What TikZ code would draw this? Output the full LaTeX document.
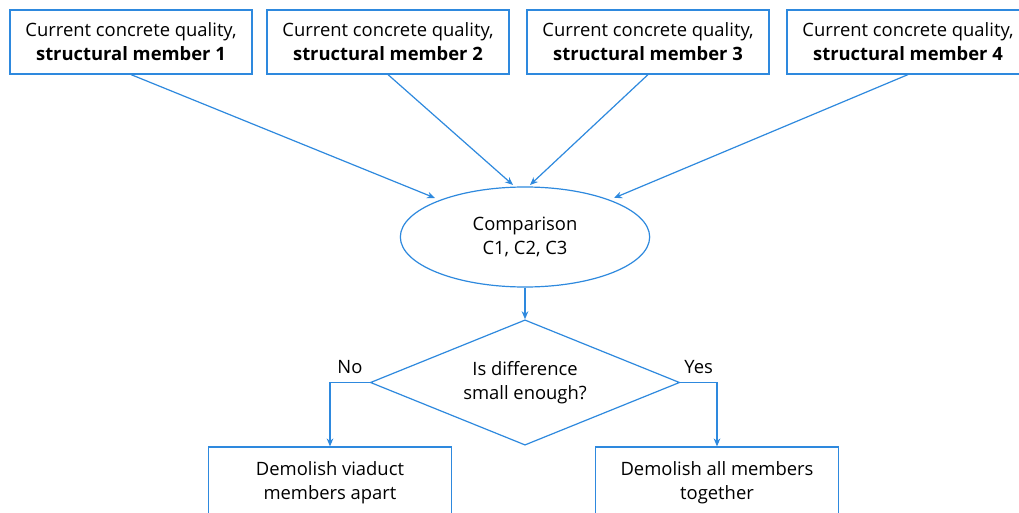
\documentclass[tikz,border=0pt]{standalone}
\usepackage{fontspec}
\setmainfont{Open Sans}
\usepackage{tikz}
\definecolor{flowblue}{RGB}{46,137,222}
\usetikzlibrary{shapes.geometric}
\usetikzlibrary{arrows.meta}

\begin{document}
\begin{tikzpicture}[x=0.75pt,y=-0.75pt,line width=0.9pt,
    every node/.style={font={\fontsize{13.8}{18}\selectfont}},
    member/.style={draw=flowblue,fill=white,align=center,minimum width=181.5pt,minimum height=48pt,inner sep=0pt},
    outcome/.style={draw=flowblue,fill=white,align=center,minimum width=182pt,minimum height=54pt,inner sep=0pt},
    flow/.style={draw=flowblue,-{Stealth[length=6pt,width=5pt]}}
]
\clip (0,0) rectangle (1019,513);
\fill[white] (0,0) rectangle (1019,513);

% members
\node[member] (m1) at (131,42) {Current concrete quality,\\\textbf{structural member 1}};
\node[member] (m2) at (388,42) {Current concrete quality,\\\textbf{structural member 2}};
\node[member] (m3) at (648,42) {Current concrete quality,\\\textbf{structural member 3}};
\node[member] (m4) at (908,42) {Current concrete quality,\\\textbf{structural member 4}};

% comparison
\node[draw=flowblue,ellipse,minimum width=187pt,minimum height=75pt,inner sep=0pt,align=center]
    (cmp) at (525,237) {Comparison\\C1, C2, C3};

% decision
\node[draw=flowblue,diamond,aspect=2.48,minimum width=232pt,minimum height=94pt,inner sep=0pt,align=center]
    (dec) at (525,382.5) {Is difference\\small enough?};

% outcomes
\node[outcome] (apart) at (330,483) {Demolish viaduct\\members apart};
\node[outcome] (all) at (717,483) {Demolish all members\\together};

\coordinate (t1) at (435,198);
\coordinate (t2) at (513,185);
\coordinate (t3) at (530,185);
\coordinate (t4) at (614,198);
\draw[flow] (m1.south) -- (t1);
\draw[flow] (m2.south) -- (t2);
\draw[flow] (m3.south) -- (t3);
\draw[flow] (m4.south) -- (t4);

\draw[flow] (cmp.south) -- (dec.north);
\draw[flow] (dec.west) -| (apart.north) node[pos=0.25,above,yshift=3pt] {No};
\draw[flow] (dec.east) -| (all.north) node[pos=0.25,above,yshift=3pt] {Yes};
\end{tikzpicture}
\end{document}
